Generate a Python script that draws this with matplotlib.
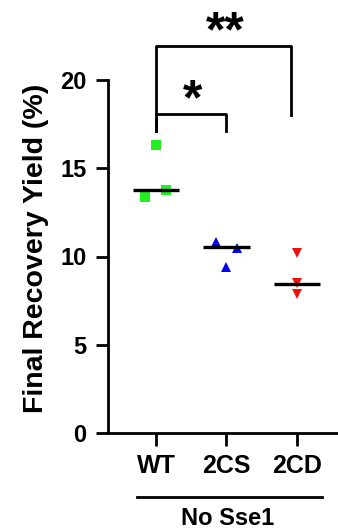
import matplotlib
matplotlib.use("Agg")
import matplotlib.pyplot as plt
import numpy as np

plt.rcParams['font.family'] = ['Liberation Sans', 'DejaVu Sans']
plt.rcParams['font.weight'] = 'bold'

groups = ["WT", "2CS", "2CD"]
wt_vals = [16.3, 13.35, 13.75]
cs_vals = [10.8, 10.5, 9.4]
cd_vals = [10.2, 8.5, 7.85]
medians = [13.75, 10.55, 8.45]
jitter = [[0.0, -0.15, 0.15], [-0.15, 0.15, 0.0], [0.0, 0.0, 0.0]]
yticks = [0, 5, 10, 15, 20]
group_label = "No Sse1"
ylabel = "Final Recovery Yield (%)"

colors = ["#22EE22", "#0000EE", "#EE1111"]
markers = ["s", "^", "v"]

fig = plt.figure(figsize=(3.38, 5.31), dpi=100)
ax = fig.add_axes([108/338, 1-433/531, (337-108)/338, (433-80)/531])

for i, vals in enumerate([wt_vals, cs_vals, cd_vals]):
    xs = [i + j for j in jitter[i]]
    ax.plot(xs, vals, linestyle='none', marker=markers[i], color=colors[i],
            markersize=7, markeredgewidth=0, zorder=3)
    ax.plot([i - 0.33, i + 0.33], [medians[i], medians[i]], color='black',
            lw=2.4, zorder=4, solid_capstyle='butt')

ax.set_xlim(-0.68, 2.57)
ax.set_ylim(0, 20)
ax.set_yticks(yticks)
ax.set_xticks(range(len(groups)))
ax.set_xticklabels(groups)
for s in ['top', 'right']:
    ax.spines[s].set_visible(False)
for s in ['left', 'bottom']:
    ax.spines[s].set_linewidth(2)
ax.tick_params(axis='both', width=2, length=9)
ax.tick_params(axis='x', pad=6, labelsize=18)
ax.tick_params(axis='y', pad=6.5, labelsize=17)
for lab in ax.get_xticklabels() + ax.get_yticklabels():
    lab.set_fontweight('bold')
ax.set_ylabel(ylabel, fontsize=20.5, fontweight='bold')
ax.yaxis.set_label_coords(-0.258, 0.524)

# group underline and label
ax.plot([-0.27, 2.36], [-3.6, -3.6], color='black', lw=2, clip_on=False)
ax.text(1.02, -4.85, group_label, ha='center', va='center', fontsize=17,
        fontweight='bold', clip_on=False)

# significance brackets
blw = 2
ax.plot([0, 0, 1, 1], [17.1, 18.1, 18.1, 17.1], color='black', lw=blw, clip_on=False)
ax.plot([0, 0, 1.92, 1.92], [17.1, 21.9, 21.9, 18.0], color='black', lw=blw, clip_on=False)
ax.text(0.52, 18.05, "*", ha='center', va='baseline', fontsize=36, fontweight='bold', clip_on=False)
ax.text(0.98, 21.9, "**", ha='center', va='baseline', fontsize=36, fontweight='bold', clip_on=False)

fig.savefig("out.png", dpi=100)
